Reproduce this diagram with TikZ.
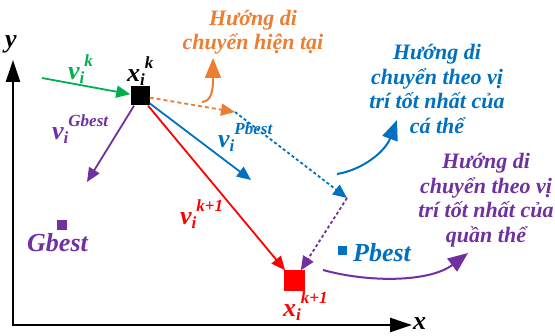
\documentclass[tikz,border=0pt]{standalone}
\usepackage{fontspec}
\setmainfont{Liberation Serif}
\usetikzlibrary{arrows.meta}
\definecolor{cgreen}{RGB}{0,176,80}
\definecolor{corange}{RGB}{237,125,49}
\definecolor{cblue}{RGB}{0,112,192}
\definecolor{cpurple}{RGB}{112,48,160}
\definecolor{cred}{RGB}{255,0,0}
\newcommand\symlab[3]{#1\raisebox{-0.12em}{\fontsize{17}{17}\selectfont #2}\raisebox{0.5em}{\fontsize{17}{17}\selectfont #3}}
\begin{document}
\begin{tikzpicture}[x=1pt,y=-1pt,
  lab/.style={inner sep=0pt,anchor=base west,font=\fontsize{26}{28}\selectfont\bfseries\itshape},
  vtxt/.style={align=center,inner sep=0pt,font=\fontsize{22}{24.5}\selectfont\bfseries\itshape},
  vec/.style={line width=1.8pt,-{Triangle[length=14pt,width=12pt]}},
  big/.style={line width=2pt,-{Triangle[length=20pt,width=16pt]}},
  axis/.style={line width=2.5pt,{Triangle[length=22pt,width=14pt]}-{Triangle[length=22pt,width=14pt]}},
  sq/.style={inner sep=0pt,draw=none}
  ]
\useasboundingbox (0,0) rectangle (555,336);
% axes
\coordinate (Y) at (13,60);
\coordinate (O) at (13,325);
\coordinate (X) at (412,325);
\draw[axis] (Y) -- (O) -- (X);
\node[lab] (ly) at (5,48) {y};
\node[lab] (lx) at (413,330) {x};
% squares
\node[sq,fill=black,minimum size=19pt] (xk) at (140,96) {};
\node[sq,fill=cred,minimum size=21pt] (xk1) at (294,281) {};
\node[sq,fill=cpurple,minimum size=10pt] (gb) at (62,225) {};
\node[sq,fill=cblue,minimum size=9pt] (pb) at (342,251) {};
% free ends
\coordinate (g0) at (42,78);
\coordinate (gv) at (87,182);
\coordinate (bv) at (251,180);
\coordinate (o1) at (235,112);
\coordinate (b1) at (347,198);
% vectors
\draw[vec,cgreen] (g0) -- (xk);
\draw[vec,cpurple] (xk) -- (gv);
\draw[vec,cblue] (xk) -- (bv);
\draw[vec,cred] (xk) -- (xk1);
\draw[vec,corange,dash pattern=on 4pt off 3pt] (xk) -- (o1);
\draw[vec,cblue,dash pattern=on 3pt off 2.5pt] (o1) -- (b1);
\draw[vec,cpurple,dash pattern=on 3pt off 2.5pt] (b1) -- (xk1);
% curved arrows
\coordinate (oc0) at (202,102);
\coordinate (oc1) at (213,58);
\coordinate (bc0) at (337,174);
\coordinate (bc1) at (397,120);
\coordinate (pc0) at (323,270);
\coordinate (pc1) at (468,253);
\draw[big,corange] (oc0) .. controls (212,101) and (213,90) .. (oc1);
\draw[big,cblue] (bc0) .. controls (362,170) and (385,152) .. (bc1);
\draw[big,cpurple] (pc0) .. controls (370,283) and (430,282) .. (pc1);
% texts
\node[vtxt,text=corange] (tor) at (253,32) {Hướng di\\chuyển hiện tại};
\node[vtxt,text=cblue] (tbl) at (437,89) {Hướng di\\chuyển theo vị\\trí tốt nhất của\\cá thể};
\node[vtxt,text=cpurple] (tpu) at (486,200) {Hướng di\\chuyển theo vị\\trí tốt nhất của\\quần thể};
% labels
\node[lab] (lxk) at (127,82) {\symlab{x}{i}{k}};
\node[lab,text=cgreen] (lvk) at (68,80) {\symlab{v}{i}{k}};
\node[lab,text=cpurple] (lvg) at (52,140) {\symlab{v}{i}{Gbest}};
\node[lab,text=cblue] (lvp) at (218,148) {\symlab{v}{i}{Pbest}};
\node[lab,text=cred] (lvk1) at (180,225) {\symlab{v}{i}{k+1}};
\node[lab,text=cred] (lxk1) at (283,317) {\symlab{x}{i}{k+1}};
\node[lab,text=cpurple] (lgb) at (27,252) {Gbest};
\node[lab,text=cblue] (lpb) at (353,262) {Pbest};
\end{tikzpicture}
\end{document}
